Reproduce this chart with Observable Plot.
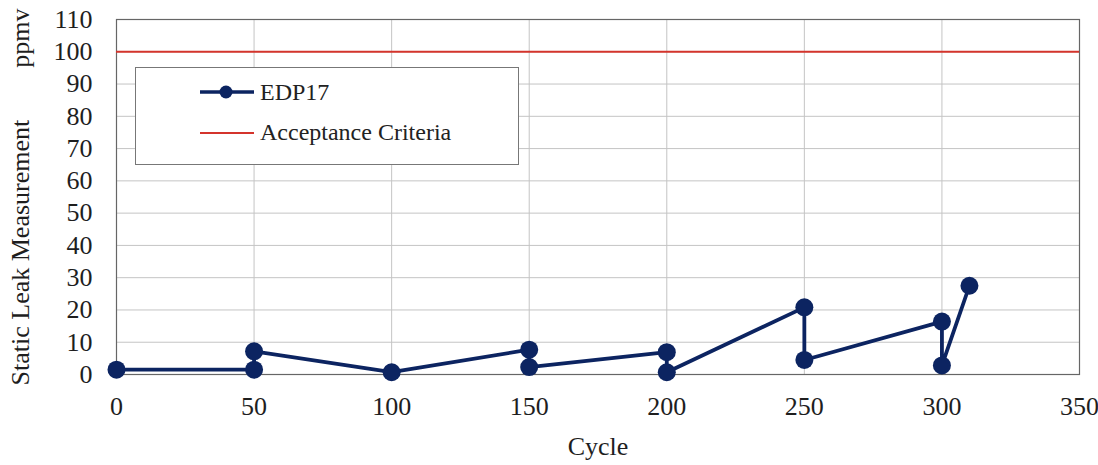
<!DOCTYPE html>
<html>
<head>
<meta charset="utf-8">
<script src="https://cdn.jsdelivr.net/npm/d3@7"></script>
<script src="https://cdn.jsdelivr.net/npm/@observablehq/plot@0.6"></script>
<style>
  html, body { margin: 0; padding: 0; background: #fff; }
  #wrap { position: relative; width: 1098px; height: 465px; }
  #legend {
    position: absolute; left: 135px; top: 67px; width: 384px; height: 98px;
    border: 1px solid #777; background: #fff; box-sizing: border-box;
    font-family: "Liberation Serif", "Times New Roman", serif; font-size: 24px; color: #222;
  }
  .item { position: absolute; left: 64px; display: flex; align-items: center; }
  .item svg { display: block; }
  .item span { margin-left: 6px; line-height: 1; font-family: "Liberation Serif", serif; }
</style>
</head>
<body>
<div id="wrap"></div>
<script>
// ---- data ----
const seriesName = "EDP17";
const criteriaName = "Acceptance Criteria";
const cycles = [0, 50, 50, 100, 150, 150, 200, 200, 250, 250, 300, 300, 310];
const leak   = [1.5, 1.5, 7.2, 0.7, 7.7, 2.3, 6.9, 0.7, 20.8, 4.5, 16.4, 2.8, 27.5];
const criteria = [100];
const xTicks = [0, 50, 100, 150, 200, 250, 300, 350];
const yTicks = [0, 10, 20, 30, 40, 50, 60, 70, 80, 90, 100, 110];
const xLabel = "Cycle";
const yLabel = "Static Leak Measurement\u2003\u2003ppmv";

const navy = "#0c2461";
const red = "#d4342c";

const data = cycles.map((c, i) => ({cycle: c, leak: leak[i]}));

const chart = Plot.plot({
  width: 1098,
  height: 465,
  marginLeft: 116,
  marginRight: 19,
  marginTop: 19,
  marginBottom: 91,
  x: {domain: [0, 350]},
  y: {domain: [0, 110]},
  style: {fontFamily: "'Liberation Serif', 'Times New Roman', serif", fontSize: "26px", color: "#1e1e1e", background: "#fff"},
  marks: [
    Plot.gridX(xTicks, {stroke: "#c4c4c4", strokeOpacity: 1, strokeWidth: 1}),
    Plot.gridY(yTicks, {stroke: "#c4c4c4", strokeOpacity: 1, strokeWidth: 1}),
    Plot.frame({stroke: "#666", strokeWidth: 1.2}),
    Plot.ruleY(criteria, {stroke: red, strokeWidth: 2}),
    Plot.line(data, {x: "cycle", y: "leak", stroke: navy, strokeWidth: 3.8, curve: "linear"}),
    Plot.dot(data, {x: "cycle", y: "leak", r: 9, fill: navy, stroke: "none"}),
    Plot.axisX(xTicks, {tickSize: 0, tickPadding: 22, fontSize: 26, label: xLabel, labelAnchor: "center", labelOffset: 80, labelArrow: "none"}),
    Plot.axisY(yTicks, {tickSize: 0, tickPadding: 24, fontSize: 26, tickFormat: d => String(d), label: yLabel, labelAnchor: "center", labelOffset: 106, labelArrow: "none"})
  ]
});

const wrap = document.getElementById("wrap");
wrap.appendChild(chart);

const legend = document.createElement("div");
legend.id = "legend";
legend.innerHTML = `
  <div class="item" style="top:12px">
    <svg width="54" height="24"><line x1="0" y1="12" x2="54" y2="12" stroke="${navy}" stroke-width="3.5"/><circle cx="26" cy="12" r="6.5" fill="${navy}"/></svg>
    <span>${seriesName}</span>
  </div>
  <div class="item" style="top:52px">
    <svg width="54" height="24"><line x1="0" y1="13" x2="54" y2="13" stroke="${red}" stroke-width="2"/></svg>
    <span>${criteriaName}</span>
  </div>`;
wrap.appendChild(legend);
</script>
</body>
</html>
